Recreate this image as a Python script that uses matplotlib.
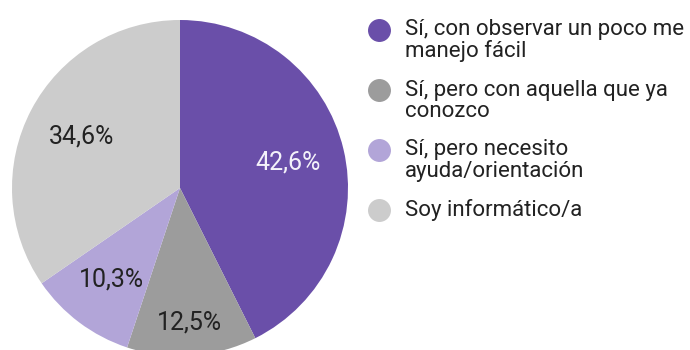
import numpy as np
import matplotlib
matplotlib.use("Agg")
import matplotlib.pyplot as plt
from matplotlib.lines import Line2D

# Survey answers and their shares (percent)
categories = [
    "Sí, con observar un poco me\nmanejo fácil",
    "Sí, pero con aquella que ya\nconozco",
    "Sí, pero necesito\nayuda/orientación",
    "Soy informático/a",
]
shares = [42.6, 12.5, 10.3, 34.6]
share_labels = ["42,6%", "12,5%", "10,3%", "34,6%"]

colors = ["#6a4fa9", "#9c9c9c", "#b2a5d8", "#cccccc"]
label_colors = ["#f4f2fa", "#222222", "#222222", "#222222"]
label_radius = [0.66, 0.80, 0.68, 0.66]

plt.rcParams["font.family"] = ["Roboto", "DejaVu Sans"]

W, H = 690, 350
fig = plt.figure(figsize=(W / 100, H / 100), dpi=100)
fig.patch.set_facecolor("white")

# Pie axes: centre and radius in pixels
cx, cy, R = 180, 188, 168
ax = fig.add_axes([(cx - R) / W, 1 - (cy + R) / H, 2 * R / W, 2 * R / H])
wedges, _ = ax.pie(shares, colors=colors, startangle=90, counterclock=False,
                   radius=1.0, wedgeprops=dict(linewidth=0))
ax.set_xlim(-1, 1)
ax.set_ylim(-1, 1)
ax.set_aspect("equal")
ax.axis("off")
for w in wedges:
    w.set_clip_on(False)

for w, txt, col, r in zip(wedges, share_labels, label_colors, label_radius):
    mid = np.deg2rad((w.theta1 + w.theta2) / 2)
    ax.text(r * np.cos(mid), r * np.sin(mid), txt, ha="center", va="center",
            fontsize=18, color=col)

# Legend drawn by hand: dot plus wrapped label
leg_x_dot, leg_x_txt = 379, 405
first_base, step, line_h = 35.5, 60, 22
for i, (cat, col) in enumerate(zip(categories, colors)):
    base = first_base + i * step
    fig.add_artist(Line2D([leg_x_dot / W], [1 - (base - 6) / H], marker="o",
                          markersize=15.5, color=col, linestyle="none",
                          transform=fig.transFigure))
    for j, line in enumerate(cat.split("\n")):
        fig.text(leg_x_txt / W, 1 - (base + j * line_h) / H, line,
                 ha="left", va="baseline", fontsize=16, color="#222222")

fig.savefig("out.png", dpi=100, facecolor="white")
